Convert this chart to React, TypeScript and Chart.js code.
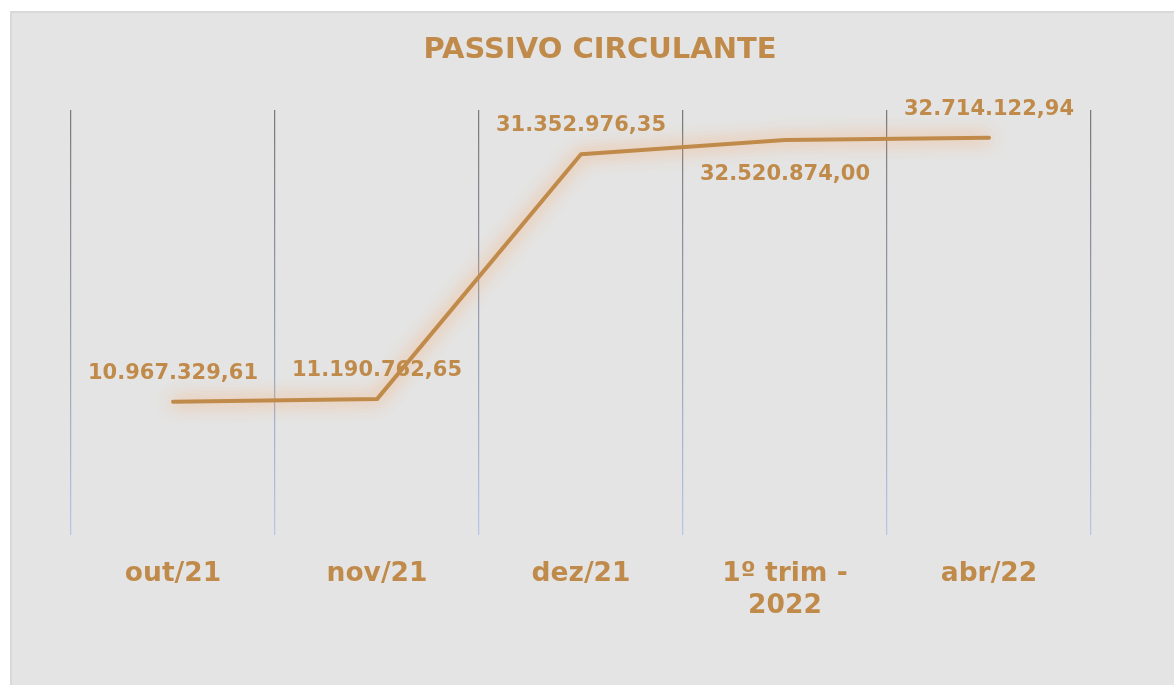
import React, { useEffect, useRef } from "react";
import { Chart, registerables } from "chart.js";

Chart.register(...registerables);

const categories: (string | string[])[] = ["out/21", "nov/21", "dez/21", ["1º trim -", "2022"], "abr/22"];
const passivoValues: number[] = [10967329.61, 11190762.65, 31352976.35, 32520874.0, 32714122.94];
const labelBelow: boolean[] = [false, false, false, true, false];
const chartTitle = "PASSIVO CIRCULANTE";

const GOLD = "#C08B4A";
const FONT = "'DejaVu Sans', Verdana, sans-serif";

function formatBR(v: number): string {
  const fixed = v.toFixed(2);
  const [intPart, dec] = fixed.split(".");
  const withDots = intPart.replace(/\B(?=(\d{3})+(?!\d))/g, ".");
  return withDots + "," + dec;
}

const glowPlugin = {
  id: "glow",
  beforeDatasetDraw(chart: any) {
    const ctx = chart.ctx;
    ctx.save();
    ctx.shadowColor = "rgba(255,150,70,1)";
    ctx.shadowBlur = 18;
    ctx.shadowOffsetX = 0;
    ctx.shadowOffsetY = 0;
  },
  afterDatasetDraw(chart: any) {
    chart.ctx.restore();
  },
};

const labelPlugin = {
  id: "valueLabels",
  afterDraw(chart: any) {
    const ctx = chart.ctx;
    const meta = chart.getDatasetMeta(0);
    const size = 21;
    ctx.save();
    ctx.font = `bold ${size}px ${FONT}`;
    ctx.fillStyle = GOLD;
    ctx.textAlign = "center";
    ctx.textBaseline = "alphabetic";
    meta.data.forEach((pt: any, i: number) => {
      const v = chart.data.datasets[0].data[i] as number;
      const below = labelBelow[i];
      const y = below ? pt.y + 32 + size * 0.365 : pt.y - 30.5 + size * 0.365;
      ctx.fillText(formatBR(v), pt.x, y);
    });
    ctx.restore();
  },
};

const hiddenAxis = (width: number, position: "left" | "right", max: number) => ({
  type: "linear",
  position,
  display: true,
  min: 0,
  max,
  grid: { display: false, drawTicks: false },
  border: { display: false },
  ticks: { display: false },
  afterFit: (scale: any) => {
    scale.width = width;
  },
});

export default function App() {
  const canvasRef = useRef<HTMLCanvasElement | null>(null);

  useEffect(() => {
    const canvas = canvasRef.current;
    if (!canvas) return;
    const chart = new Chart(canvas, {
      type: "line",
      data: {
        labels: categories as any,
        datasets: [
          {
            label: chartTitle,
            data: passivoValues,
            yAxisID: "y",
            borderColor: GOLD,
            borderWidth: 4,
            borderCapStyle: "round",
            borderJoinStyle: "round",
            pointRadius: 0,
            pointHoverRadius: 0,
            tension: 0,
            fill: false,
          },
        ],
      },
      options: {
        responsive: false,
        animation: false,
        events: [],
        layout: { padding: { left: 0, right: 0, top: 0, bottom: 58 } },
        plugins: {
          legend: { display: false },
          tooltip: { enabled: false },
          title: {
            display: true,
            text: chartTitle,
            color: GOLD,
            font: { family: FONT, size: 29, weight: "bold", lineHeight: 1.2 },
            padding: { top: 19.6, bottom: 42.6 },
          },
        },
        scales: {
          x: {
            type: "category",
            offset: true,
            border: { display: false },
            grid: {
              offset: true,
              drawTicks: false,
              lineWidth: 1.25,
              color: (c: any) => {
                const chart = c.chart;
                const area = chart && chart.chartArea;
                if (!area) return "#999999";
                const g = chart.ctx.createLinearGradient(0, area.top, 0, area.bottom);
                g.addColorStop(0, "#7a7a7a");
                g.addColorStop(0.5, "#96a0b0");
                g.addColorStop(1, "#b4c7e7");
                return g;
              },
            },
            ticks: {
              color: GOLD,
              padding: 23,
              maxRotation: 0,
              autoSkip: false,
              font: { family: FONT, size: 26.5, weight: "bold", lineHeight: 1.2 },
            },
            afterFit: (scale: any) => {
              scale.height = 100;
            },
          },
          y: hiddenAxis(59, "left", 35000000),
          yRight: hiddenAxis(97, "right", 1),
        },
      } as any,
      plugins: [glowPlugin, labelPlugin],
    });
    return () => chart.destroy();
  }, []);

  return (
    <div
      style={{
        position: "fixed",
        left: 0,
        top: 0,
        width: "100vw",
        height: "100vh",
        overflow: "hidden",
        background: "#ffffff",
      }}
    >
      <div
        style={{
          position: "absolute",
          left: 10,
          top: 11,
          width: 1190,
          height: 700,
          background: "#e4e4e4",
          border: "2px solid #d9d9d9",
        }}
      >
        <canvas
          ref={canvasRef}
          width={1176}
          height={680}
          style={{ position: "absolute", left: 0, top: 0, width: 1176, height: 680 }}
        />
      </div>
    </div>
  );
}
